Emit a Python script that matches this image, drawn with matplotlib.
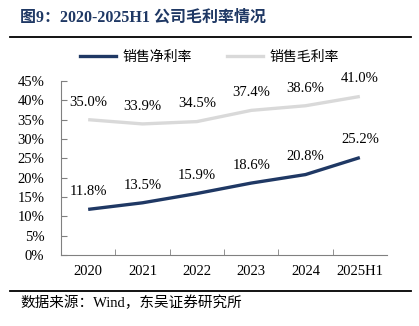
import matplotlib.pyplot as plt
from matplotlib.lines import Line2D

plt.rcParams['font.family'] = ['Liberation Serif', 'Noto Sans CJK SC']

years = ['2020', '2021', '2022', '2023', '2024', '2025H1']
net_margin = [11.8, 13.5, 15.9, 18.6, 20.8, 25.2]
gross_margin = [35.0, 33.9, 34.5, 37.4, 38.6, 41.0]

navy = '#1F3864'
grey = '#D9D9D9'

fig = plt.figure(figsize=(4.19, 3.26), dpi=100)
ax = fig.add_axes([61 / 419, 71 / 326, 326 / 419, 174 / 326])

x = list(range(len(years)))
ax.plot(x, net_margin, color=navy, lw=2.4, solid_capstyle='butt')
ax.plot(x, gross_margin, color=grey, lw=2.4, solid_capstyle='butt')

for xi, v in zip(x, net_margin):
    ax.annotate(f'{v:.1f}%', (xi, v), xytext=(0, 8), textcoords='offset points',
                ha='center', va='bottom', fontsize=10.5)
for xi, v in zip(x, gross_margin):
    ax.annotate(f'{v:.1f}%', (xi, v), xytext=(0, 8), textcoords='offset points',
                ha='center', va='bottom', fontsize=10.5)

ax.set_xlim(-0.5, len(years) - 0.5)
ax.set_ylim(0, 45)
ax.set_yticks(range(0, 46, 5))
ax.set_yticklabels([f'{t}%' for t in range(0, 46, 5)], fontsize=10.5)
ax.set_xticks(x)
ax.set_xticklabels(years, fontsize=10.5)
ax.set_xticks([i + 0.5 for i in x[:-1]], minor=True)
ax.tick_params(axis='x', which='major', length=0, pad=7)
ax.tick_params(axis='x', which='minor', length=4, direction='in', color='#808080')
ax.tick_params(axis='y', length=4, direction='in', color='#808080', pad=12)
for s in ['top', 'right']:
    ax.spines[s].set_visible(False)
for s in ['left', 'bottom']:
    ax.spines[s].set_color('#808080')
    ax.spines[s].set_linewidth(0.8)

handles = [Line2D([], [], color=navy, lw=2.4), Line2D([], [], color=grey, lw=2.4)]
fig.legend(handles, ['销售净利率', '销售毛利率'], loc='center', bbox_to_anchor=(0.5, 1 - 57 / 326),
           ncol=2, frameon=False, prop={'family': 'Noto Sans CJK SC', 'size': 10},
           handlelength=2.6, columnspacing=2.5, handletextpad=0.5)

fig.text(20 / 419, 1 - 18 / 326, '图9：2020-2025H1 公司毛利率情况', fontsize=11.5, fontweight='bold',
         color=navy, va='center', family=['Liberation Serif', 'Noto Sans CJK SC'])
fig.add_artist(Line2D([10 / 419, 411 / 419], [1 - 37 / 326] * 2, color='black', lw=1.3))
fig.add_artist(Line2D([10 / 419, 411 / 419], [1 - 291 / 326] * 2, color='black', lw=1.3))
fig.text(20 / 419, 1 - 303 / 326, '数据来源：Wind，东吴证券研究所', fontsize=10.5, va='center',
         family=['Liberation Serif', 'Noto Sans CJK SC'])

fig.savefig('out.png', dpi=100)
